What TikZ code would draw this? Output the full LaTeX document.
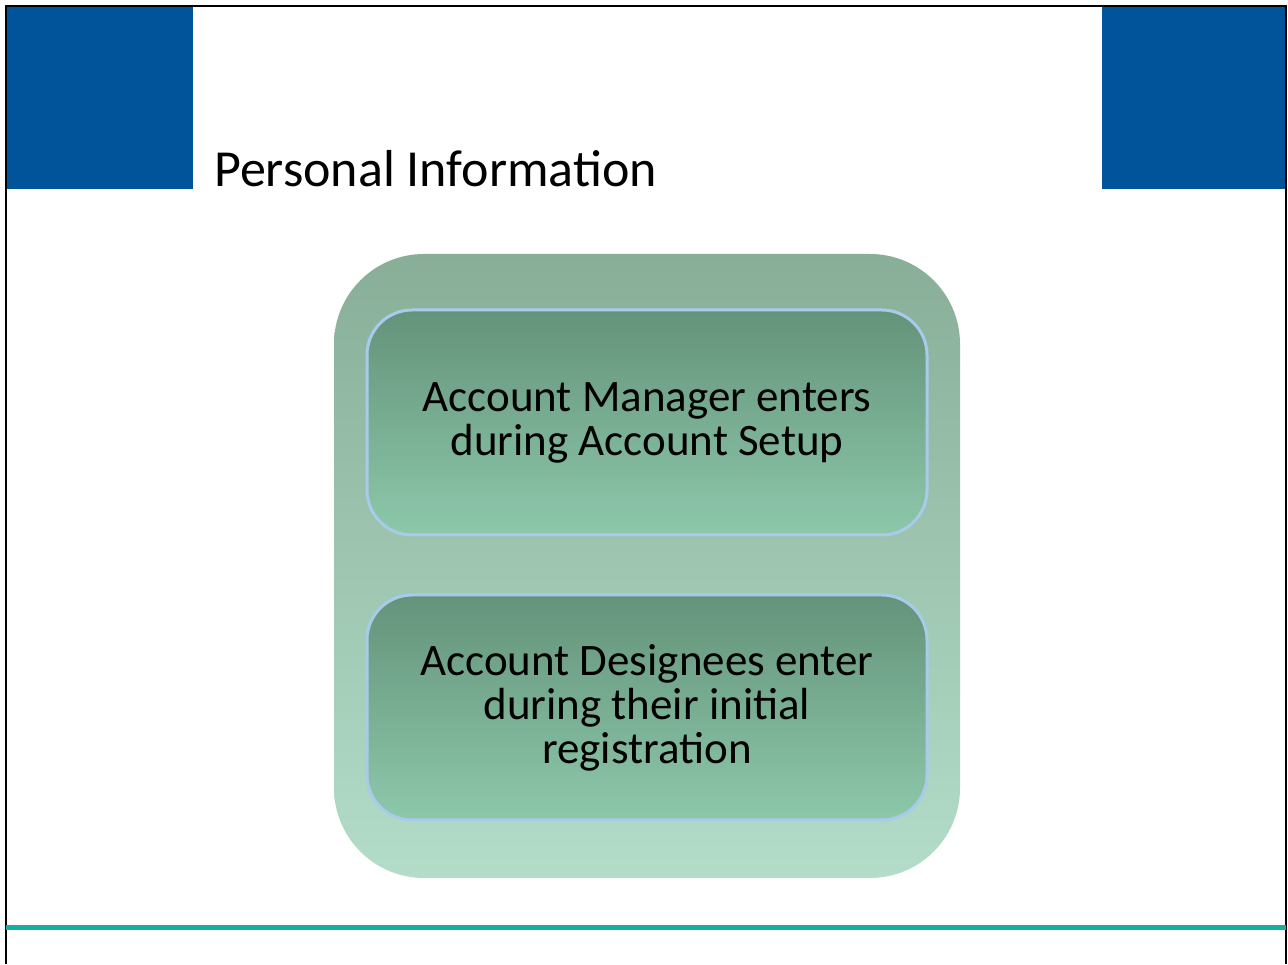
\documentclass[tikz,border=0pt]{standalone}
\usepackage{fontspec}
\setmainfont{Carlito}
\definecolor{slideblue}{HTML}{02549A}
\definecolor{rulecyan}{HTML}{13AFA6}
\definecolor{outertop}{HTML}{88AE98}
\definecolor{outerbot}{HTML}{B3DDC9}
\definecolor{innertop}{HTML}{64937A}
\definecolor{innerbot}{HTML}{8DC8AB}
\definecolor{innerline}{HTML}{A9CBEB}
\tikzset{
  x=1pt, y=1pt,
  corner/.style={fill=slideblue, draw=none},
  outerpanel/.style={rounded corners=90pt, top color=outertop, bottom color=outerbot,
    draw=none, minimum width=626pt, minimum height=624pt, inner sep=0pt},
  stepbox/.style={rounded corners=45pt, top color=innertop, bottom color=innerbot,
    draw=innerline, line width=3pt, minimum width=560pt, minimum height=225pt,
    inner sep=0pt},
  boxtext/.style={font=\fontsize{45}{44}\selectfont, align=center, text=black},
}
\begin{document}
\begin{tikzpicture}
\useasboundingbox (0,0) rectangle (1288,964);
\fill[white] (0,0) rectangle (1288,964);
% header blocks
\fill[corner] (6,775) rectangle (193,958);
\fill[corner] (1102,775) rectangle (1286,958);
% frame
\draw[line width=2pt] (6,0) -- (6,958) -- (1286,958) -- (1286,0);
% title
\node[anchor=base west, inner sep=0pt, font=\fontsize{52}{56}\selectfont] (title) at (214,777) {Personal Information};
% footer rule
\fill[rulecyan] (6,33.5) rectangle (1286,38.5);
% panel and its two boxes
\node[outerpanel] (panel) at (647,398) {};
\node[stepbox] (setup) at (647,541.5) {};
\node[stepbox] (reg) at (647,256.5) {};
\node[boxtext] (setuptext) at (setup.center) {Account Manager enters\\during Account Setup};
\node[boxtext] (regtext) at (reg.center) {Account Designees enter\\during their initial\\registration};
\end{tikzpicture}
\end{document}
